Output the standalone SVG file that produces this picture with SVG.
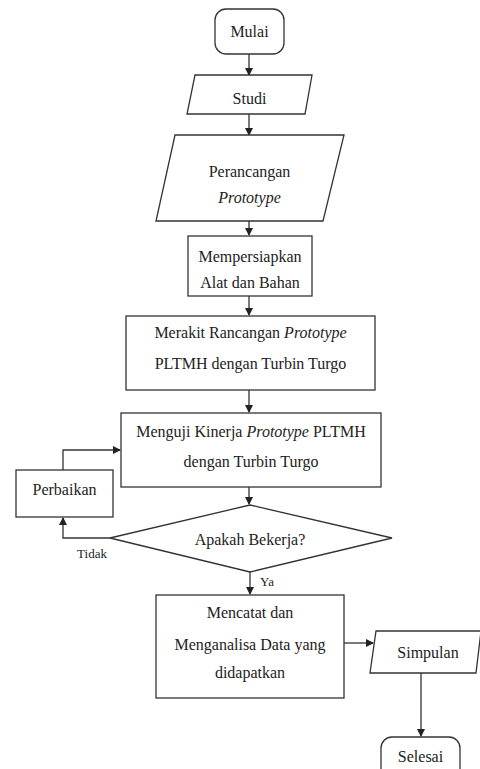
<svg xmlns="http://www.w3.org/2000/svg" width="480" height="769" viewBox="0 0 480 769">
<defs>
<marker id="ah" markerWidth="8" markerHeight="8" refX="7" refY="4" orient="auto" markerUnits="userSpaceOnUse">
<path d="M0,0 L8,4 L0,8 Z" fill="#222"/>
</marker>
<style>
.s{fill:#fff;stroke:#333;stroke-width:1.3}
.t{font-family:'Liberation Serif','DejaVu Serif',serif;font-size:16px;fill:#222;text-anchor:middle}
.sm{font-size:13px}
.c{fill:none;stroke:#333;stroke-width:1.3;marker-end:url(#ah)}
</style>
</defs>
<rect width="480" height="769" fill="#fff"/>
<g id="connectors">
<path class="c" d="M249,54 V75"/>
<path class="c" d="M249,114 V135"/>
<path class="c" d="M249,221 V235"/>
<path class="c" d="M249,296 V315"/>
<path class="c" d="M249,390 V412"/>
<path class="c" d="M249,487 V504"/>
<path class="c" d="M110,538 H63 V518"/>
<path class="c" d="M63,470 V450 H120"/>
<path class="c" d="M250,572 V594"/>
<path class="c" d="M344,643 H373"/>
<path class="c" d="M421,673 V736"/>
<text class="t sm" x="92" y="558" font-family="Liberation Serif, serif">Tidak</text>
<text class="t sm" x="267" y="586" font-family="Liberation Serif, serif">Ya</text>
</g>
<g id="mulai">
<rect class="s" x="215" y="9" width="69" height="45" rx="11"/>
<text class="t" x="249.5" y="37">Mulai</text>
</g>
<g id="studi">
<polygon class="s" points="195,75 312,75 305,114 187,114"/>
<text class="t" x="249.5" y="104">Studi</text>
</g>
<g id="perancangan">
<polygon class="s" points="175,135 344,135 323,221 156,221"/>
<text class="t" x="249.5" y="177">Perancangan</text>
<text class="t" x="249.5" y="203" font-style="italic">Prototype</text>
</g>
<g id="mempersiapkan">
<rect class="s" x="188" y="236" width="124" height="60"/>
<text class="t" x="250" y="262">Mempersiapkan</text>
<text class="t" x="250" y="288">Alat dan Bahan</text>
</g>
<g id="merakit">
<rect class="s" x="126" y="316" width="249" height="74"/>
<text class="t" x="250.5" y="338">Merakit Rancangan <tspan font-style="italic">Prototype</tspan></text>
<text class="t" x="250.5" y="369">PLTMH dengan Turbin Turgo</text>
</g>
<g id="menguji">
<rect class="s" x="121" y="413" width="260" height="74"/>
<text class="t" x="251" y="437">Menguji Kinerja <tspan font-style="italic">Prototype</tspan> PLTMH</text>
<text class="t" x="251" y="467">dengan Turbin Turgo</text>
</g>
<g id="perbaikan">
<rect class="s" x="16" y="470" width="97" height="47"/>
<text class="t" x="64.5" y="495">Perbaikan</text>
</g>
<g id="keputusan">
<polygon class="s" points="250,505 392,538 250,572 110,538"/>
<text class="t" x="250" y="545">Apakah Bekerja?</text>
</g>
<g id="mencatat">
<rect class="s" x="156" y="595" width="188" height="103"/>
<text class="t" x="250" y="618">Mencatat dan</text>
<text class="t" x="250" y="650">Menganalisa Data yang</text>
<text class="t" x="250" y="678">didapatkan</text>
</g>
<g id="simpulan">
<polygon class="s" points="376,631 481,631 476,673 370,673"/>
<text class="t" x="428" y="658">Simpulan</text>
</g>
<g id="selesai">
<rect class="s" x="381" y="737" width="79" height="45" rx="11"/>
<text class="t" x="420.5" y="762">Selesai</text>
</g>
</svg>
